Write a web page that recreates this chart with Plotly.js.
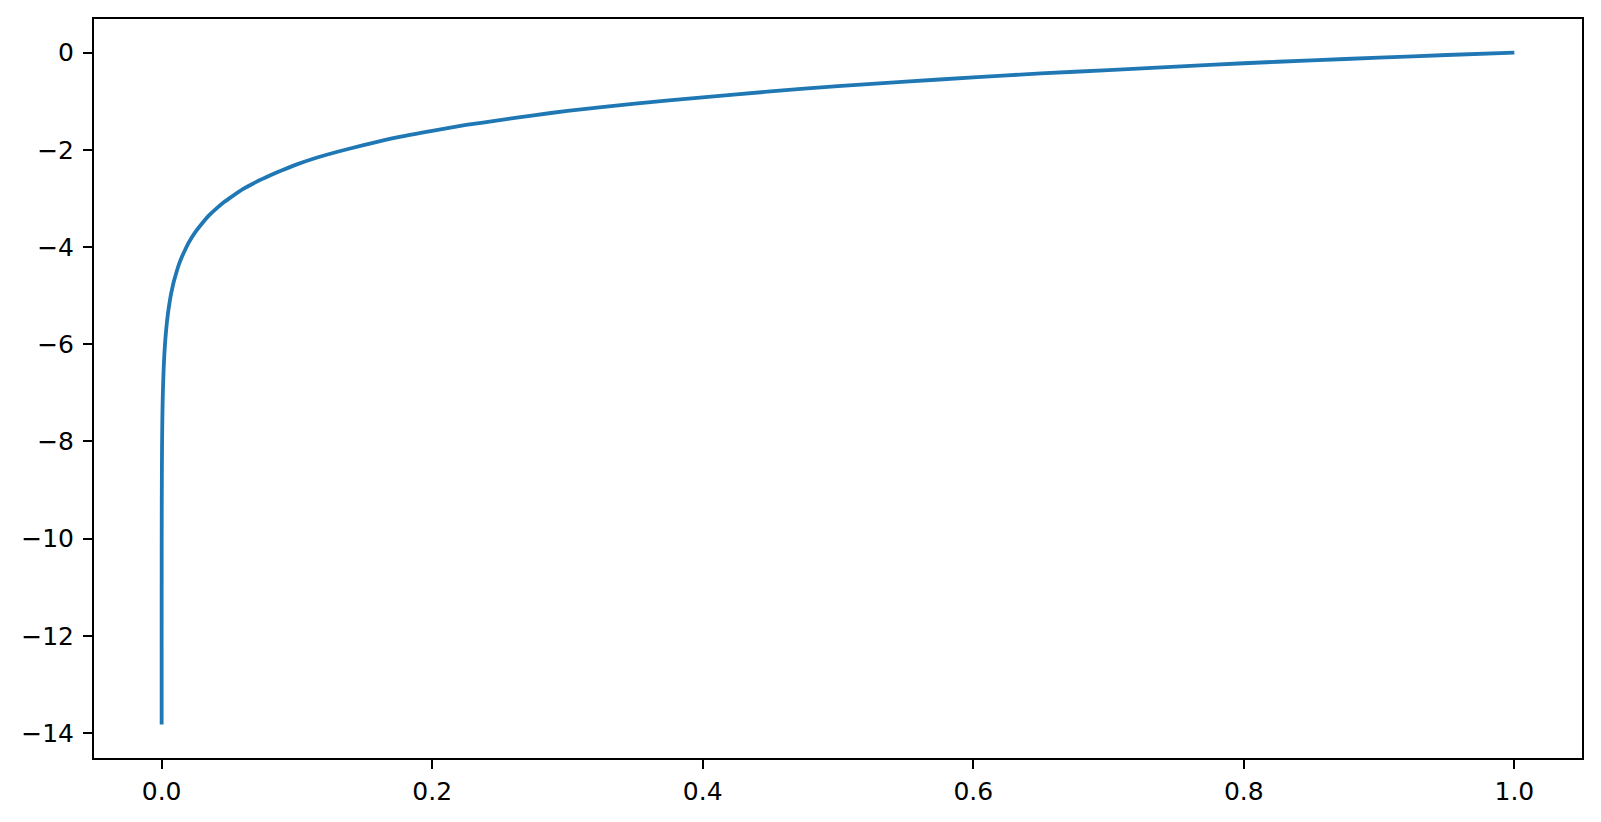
<!DOCTYPE html>
<html><head><meta charset="utf-8">
<script src="https://cdn.plot.ly/plotly-3.0.1.min.js"></script>
<style>html,body{margin:0;padding:0;background:#fff;}#plot{width:1601px;height:822px;}</style>
</head><body><div id="plot"></div>
<script>
// values
var xValues = [0.000001, 0.000002, 0.000005, 0.00001, 0.00002, 0.00005, 0.0001, 0.0002, 0.0003, 0.0005, 0.0007,
  0.001, 0.0015, 0.002, 0.0025, 0.003, 0.004, 0.005, 0.006, 0.007, 0.008, 0.009, 0.01, 0.0125, 0.015, 0.0175,
  0.02, 0.025, 0.03, 0.035, 0.04, 0.045, 0.05, 0.06, 0.07, 0.08, 0.09, 0.1, 0.115, 0.13, 0.15, 0.175, 0.2,
  0.225, 0.25, 0.275, 0.3, 0.35, 0.4, 0.45, 0.5, 0.55, 0.6, 0.65, 0.7, 0.75, 0.8, 0.85, 0.9, 0.95, 1.0];
var yValues = [-13.82, -13.12, -12.21, -11.51, -10.82, -9.90, -9.21, -8.52, -8.11, -7.60, -7.26,
  -6.91, -6.50, -6.21, -5.99, -5.81, -5.52, -5.30, -5.12, -4.96, -4.83, -4.71, -4.61, -4.38, -4.20, -4.05,
  -3.91, -3.69, -3.51, -3.35, -3.22, -3.10, -3.00, -2.81, -2.66, -2.53, -2.41, -2.30, -2.16, -2.04, -1.90, -1.74, -1.61,
  -1.49, -1.39, -1.29, -1.20, -1.05, -0.92, -0.80, -0.69, -0.60, -0.51, -0.43, -0.36, -0.29, -0.22, -0.16, -0.105, -0.05, 0.0];
var xTicks = [0.0, 0.2, 0.4, 0.6, 0.8, 1.0];
var xTickLabels = ['0.0', '0.2', '0.4', '0.6', '0.8', '1.0'];
var yTicks = [0, -2, -4, -6, -8, -10, -12, -14];
var yTickLabels = ['0', '\u22122', '\u22124', '\u22126', '\u22128', '\u221210', '\u221212', '\u221214'];

var trace = {x: xValues, y: yValues, type: 'scatter', mode: 'lines',
  line: {color: '#1f77b4', width: 3.8, shape: 'spline', smoothing: 0.5}, hoverinfo: 'none'};
var axisCommon = {showgrid: false, zeroline: false, showline: true, linecolor: '#000', linewidth: 2,
  mirror: true, ticks: 'outside', ticklen: 9, tickwidth: 2, tickcolor: '#000',
  tickfont: {family: 'DejaVu Sans', size: 25, color: '#000'}};
var layout = {
  width: 1601, height: 822, paper_bgcolor: '#fff', plot_bgcolor: '#fff', showlegend: false,
  margin: {l: 94, r: 19, t: 19, b: 64},
  xaxis: Object.assign({}, axisCommon, {range: [-0.05, 1.05], tickmode: 'array', tickvals: xTicks, ticktext: xTickLabels, ticklabelstandoff: 1}),
  yaxis: Object.assign({}, axisCommon, {range: [-14.51, 0.69], tickmode: 'array', tickvals: yTicks, ticktext: yTickLabels, ticklabelstandoff: 4})
};
Plotly.newPlot('plot', [trace], layout, {staticPlot: true, displayModeBar: false});
</script></body></html>
